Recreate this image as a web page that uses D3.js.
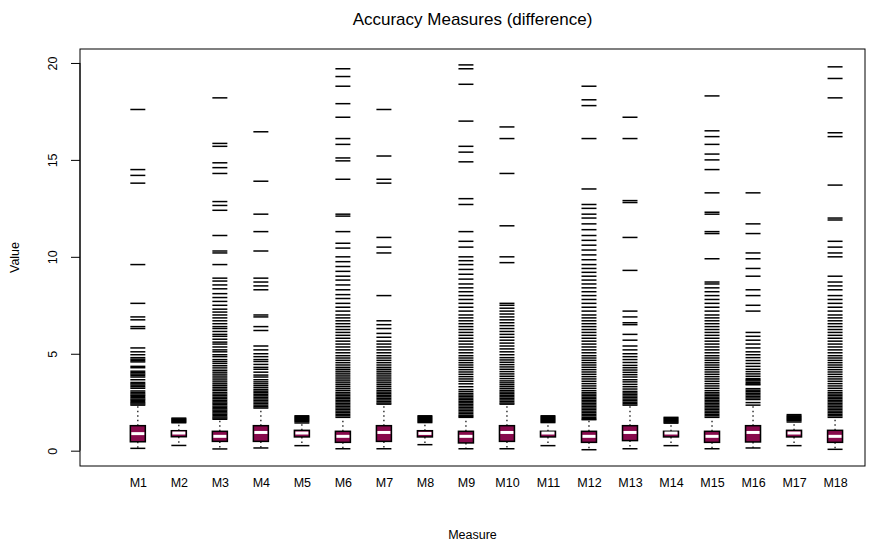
<!DOCTYPE html>
<html>
<head>
<meta charset="utf-8">
<script src="https://cdn.jsdelivr.net/npm/d3@7"></script>
<style>
  html, body { margin: 0; padding: 0; background: #fff; }
  svg { display: block; font-family: "Liberation Sans", Arial, Helvetica, sans-serif; }
</style>
</head>
<body>
<svg id="chart" width="886" height="546"></svg>
<script>
const categories = ["M1","M2","M3","M4","M5","M6","M7","M8","M9","M10","M11","M12","M13","M14","M15","M16","M17","M18"];
const lowWhisker  = [0.12,0.27,0.09,0.14,0.26,0.10,0.10,0.31,0.10,0.10,0.26,0.05,0.10,0.26,0.10,0.14,0.26,0.07];
const q1Values    = [0.46,0.72,0.48,0.48,0.71,0.43,0.48,0.71,0.40,0.48,0.71,0.43,0.52,0.71,0.43,0.45,0.71,0.43];
const medians     = [0.88,0.91,0.74,0.94,0.91,0.74,0.94,0.89,0.74,0.94,0.91,0.74,0.94,0.91,0.74,0.94,0.91,0.74];
const q3Values    = [1.29,1.03,1.00,1.29,1.05,1.00,1.29,1.03,1.00,1.29,1.00,1.00,1.29,1.00,1.00,1.29,1.05,1.05];
const highWhisker = [2.35,1.44,1.62,2.20,1.43,1.72,2.40,1.45,1.72,2.40,1.45,1.60,2.35,1.42,1.72,2.35,1.48,1.72];
const outliers = [
  [17.6,14.5,14.2,13.8,9.6,7.6,6.9,6.75,6.4,6.3,5.3,5.1,4.95,4.8,4.72,4.65,4.58,4.35,4.28,4.1,4.02,3.95,3.88,3.8,3.66,3.52,3.45,3.38,3.3,3.22,3.08,3.0,2.93,2.86,2.8,2.73,2.66,2.6,2.53,2.47,2.41],
  [1.68,1.64,1.6,1.56,1.52,1.48],
  [18.2,15.85,15.7,14.85,14.6,14.3,12.85,12.65,12.4,11.1,10.3,10.2,9.6,8.9,8.75,8.55,8.35,8.1,7.9,7.7,7.5,7.3,7.15,7.0,6.85,6.7,6.55,6.4,6.3,6.15,6.0,5.9,5.75,5.6,5.5,5.35,5.2,5.1,4.95,4.85,4.7,4.6,4.5,4.38,4.27,4.15,4.05,3.95,3.85,3.75,3.65,3.55,3.45,3.36,3.27,3.18,3.1,3.0,2.92,2.84,2.76,2.68,2.6,2.52,2.45,2.38,2.3,2.23,2.16,2.09,2.02,1.95,1.88,1.81,1.74,1.68],
  [16.45,13.9,12.2,11.3,10.3,8.9,8.7,8.5,8.3,7.0,6.9,6.4,6.2,5.4,5.2,5.0,4.85,4.7,4.6,4.45,4.3,4.2,4.05,3.9,3.8,3.66,3.55,3.45,3.35,3.25,3.15,3.07,2.99,2.91,2.83,2.75,2.67,2.59,2.51,2.43,2.35,2.27],
  [1.8,1.75,1.7,1.65,1.6,1.55,1.5],
  [19.7,19.3,18.8,17.9,17.2,16.1,15.8,15.1,14.95,14.0,12.2,12.1,11.3,10.7,10.45,10.0,9.75,9.5,9.25,9.0,8.8,8.55,8.3,8.05,7.85,7.6,7.4,7.2,7.0,6.85,6.7,6.55,6.4,6.25,6.1,5.95,5.8,5.65,5.5,5.35,5.2,5.05,4.9,4.78,4.66,4.54,4.42,4.3,4.2,4.1,4.0,3.9,3.8,3.7,3.6,3.5,3.4,3.3,3.2,3.1,3.0,2.92,2.84,2.76,2.68,2.6,2.52,2.44,2.36,2.28,2.2,2.12,2.04,1.96,1.88,1.8],
  [17.6,15.2,14.0,13.8,11.0,10.5,10.2,8.0,6.7,6.5,6.3,6.05,5.85,5.65,5.5,5.35,5.2,5.05,4.9,4.78,4.66,4.54,4.42,4.3,4.2,4.1,4.0,3.9,3.8,3.7,3.6,3.5,3.4,3.3,3.2,3.1,3.02,2.94,2.86,2.78,2.7,2.62,2.54,2.46],
  [1.8,1.75,1.7,1.65,1.6,1.55,1.5],
  [19.9,19.7,18.9,17.0,15.7,15.4,14.9,13.0,12.7,11.3,10.8,10.5,10.0,9.8,9.6,9.35,9.1,8.85,8.6,8.4,8.2,8.0,7.8,7.6,7.4,7.2,7.0,6.85,6.7,6.55,6.4,6.25,6.1,5.95,5.8,5.65,5.5,5.35,5.2,5.05,4.9,4.78,4.66,4.54,4.42,4.3,4.18,4.06,3.94,3.82,3.7,3.58,3.45,3.3,3.15,3.05,2.95,2.87,2.79,2.71,2.63,2.55,2.47,2.39,2.31,2.23,2.15,2.07,1.99,1.91,1.83,1.77],
  [16.7,16.1,14.3,11.6,10.0,9.7,7.6,7.5,7.35,7.2,7.05,6.9,6.75,6.6,6.45,6.3,6.15,6.0,5.85,5.7,5.55,5.4,5.25,5.1,4.95,4.8,4.68,4.56,4.44,4.32,4.2,4.08,3.96,3.84,3.72,3.6,3.5,3.4,3.3,3.2,3.1,3.02,2.94,2.86,2.78,2.7,2.62,2.54,2.46],
  [1.8,1.75,1.7,1.65,1.6,1.55,1.5],
  [18.8,18.1,17.8,16.1,13.5,12.7,12.5,12.2,12.0,11.7,11.4,11.1,10.85,10.6,10.35,10.1,9.85,9.6,9.4,9.2,9.0,8.8,8.6,8.4,8.2,8.0,7.8,7.6,7.4,7.2,7.0,6.85,6.7,6.55,6.4,6.25,6.1,5.95,5.8,5.65,5.5,5.35,5.2,5.05,4.9,4.78,4.66,4.54,4.42,4.3,4.18,4.06,3.94,3.82,3.7,3.58,3.46,3.34,3.22,3.1,3.0,2.92,2.84,2.76,2.68,2.6,2.52,2.44,2.36,2.28,2.2,2.12,2.04,1.96,1.88,1.8,1.72,1.65],
  [17.2,16.1,12.9,12.8,11.0,9.3,7.2,6.9,6.6,6.5,6.0,5.7,5.4,5.2,5.0,4.85,4.7,4.55,4.4,4.28,4.16,4.04,3.92,3.8,3.66,3.55,3.42,3.3,3.18,3.06,2.98,2.9,2.82,2.74,2.66,2.58,2.5,2.42],
  [1.72,1.67,1.62,1.57,1.52,1.47],
  [18.3,16.5,16.2,15.8,15.3,15.0,14.5,13.3,12.3,12.2,11.3,11.2,9.9,8.7,8.6,8.4,8.2,8.0,7.8,7.6,7.4,7.2,7.0,6.85,6.7,6.55,6.4,6.25,6.1,5.95,5.8,5.65,5.5,5.35,5.2,5.05,4.9,4.78,4.66,4.54,4.42,4.3,4.18,4.06,3.94,3.82,3.7,3.58,3.46,3.34,3.22,3.1,3.0,2.92,2.84,2.76,2.68,2.6,2.52,2.44,2.36,2.28,2.2,2.12,2.04,1.96,1.88,1.8],
  [13.3,11.7,11.2,10.2,9.9,9.4,9.0,8.3,8.0,7.5,7.2,6.1,5.9,5.7,5.5,5.3,5.1,4.95,4.8,4.65,4.5,4.35,4.2,4.08,3.96,3.84,3.72,3.66,3.6,3.52,3.45,3.4,3.2,3.12,3.04,2.96,2.88,2.8,2.72,2.64,2.48],
  [1.86,1.8,1.75,1.7,1.65,1.6,1.55],
  [19.8,19.2,18.2,16.4,16.2,13.7,12.0,11.9,10.8,10.5,10.2,10.0,9.0,8.7,8.5,8.3,8.0,7.8,7.6,7.4,7.2,7.0,6.85,6.7,6.55,6.4,6.25,6.1,5.95,5.8,5.65,5.5,5.35,5.2,5.05,4.9,4.78,4.66,4.54,4.42,4.3,4.18,4.06,3.94,3.82,3.7,3.58,3.46,3.34,3.22,3.1,3.0,2.92,2.84,2.76,2.68,2.6,2.52,2.44,2.36,2.28,2.2,2.12,2.04,1.96,1.88,1.8]
];
const yTicks = [0, 5, 10, 15, 20];
const titleText = "Accuracy Measures (difference)";
const xTitle = "Measure";
const yTitle = "Value";

const svg = d3.select("#chart");
const plotL = 80, plotR = 865, plotT = 49, plotB = 466;
const x = d3.scaleLinear().domain([-0.41, 18.73]).range([plotL, plotR]);
const y = d3.scaleLinear().domain([-0.79, 20.72]).range([plotB, plotT]);
const boxW = 15;
const fillColor = "#880a4c";

const data = categories.map((c, i) => ({
  name: c, pos: i + 1, lo: lowWhisker[i], q1: q1Values[i], med: medians[i],
  q3: q3Values[i], hi: highWhisker[i], out: outliers[i]
}));

const g = svg.append("g");
const grp = g.selectAll("g.box").data(data).enter().append("g").attr("class", "box");

// whiskers (dotted)
grp.append("line").attr("x1", d => x(d.pos)).attr("x2", d => x(d.pos))
  .attr("y1", d => y(d.q3)).attr("y2", d => y(d.hi))
  .attr("stroke", "#000").attr("stroke-width", 1.2).attr("stroke-dasharray", "1.5,3");
grp.append("line").attr("x1", d => x(d.pos)).attr("x2", d => x(d.pos))
  .attr("y1", d => y(d.q1)).attr("y2", d => y(d.lo))
  .attr("stroke", "#000").attr("stroke-width", 1.2).attr("stroke-dasharray", "1.5,3");
// staples
grp.append("line").attr("x1", d => x(d.pos) - boxW / 2).attr("x2", d => x(d.pos) + boxW / 2)
  .attr("y1", d => y(d.hi)).attr("y2", d => y(d.hi)).attr("stroke", "#000").attr("stroke-width", 1.5);
grp.append("line").attr("x1", d => x(d.pos) - boxW / 2).attr("x2", d => x(d.pos) + boxW / 2)
  .attr("y1", d => y(d.lo)).attr("y2", d => y(d.lo)).attr("stroke", "#000").attr("stroke-width", 1.5);
// box
grp.append("rect").attr("x", d => x(d.pos) - boxW / 2).attr("width", boxW)
  .attr("y", d => y(d.q3)).attr("height", d => y(d.q1) - y(d.q3))
  .attr("fill", fillColor).attr("stroke", "#000").attr("stroke-width", 1.5);
// median
grp.append("line").attr("x1", d => x(d.pos) - boxW / 2 + 1).attr("x2", d => x(d.pos) + boxW / 2 - 1)
  .attr("y1", d => y(d.med)).attr("y2", d => y(d.med)).attr("stroke", "#fff").attr("stroke-width", 3);
// outliers as dashes
grp.selectAll("line.out").data(d => d.out.map(v => ({ pos: d.pos, v }))).enter().append("line")
  .attr("class", "out")
  .attr("x1", d => x(d.pos) - boxW / 2).attr("x2", d => x(d.pos) + boxW / 2)
  .attr("y1", d => y(d.v)).attr("y2", d => y(d.v))
  .attr("stroke", "#000").attr("stroke-width", 1.5);

// frame
svg.append("rect").attr("x", plotL).attr("y", plotT).attr("width", plotR - plotL).attr("height", plotB - plotT)
  .attr("fill", "none").attr("stroke", "#000").attr("stroke-width", 1);

// y axis
const yAxis = d3.axisLeft(y).tickValues(yTicks).tickSize(9).tickPadding(4).tickFormat(d3.format("d"));
const ya = svg.append("g").attr("transform", `translate(${plotL},0)`).call(yAxis);
ya.select(".domain").attr("d", `M0,${y(0)}V${y(20)}`).attr("stroke", "#000");
ya.selectAll(".tick line").attr("stroke", "#000");
ya.selectAll(".tick text").attr("x", null).attr("dy", null)
  .attr("text-anchor", "middle")
  .attr("transform", "translate(-23,0) rotate(-90)")
  .attr("font-size", 12.5).attr("font-family", "Liberation Sans, Arial, sans-serif").attr("fill", "#000");

// x labels
const xAxis = d3.axisBottom(x).tickValues(data.map(d => d.pos)).tickFormat((d, i) => categories[i]).tickSize(0).tickPadding(0);
const xa = svg.append("g").attr("transform", `translate(0,${plotB})`).call(xAxis);
xa.select(".domain").remove();
xa.selectAll(".tick text").attr("y", 21).attr("dy", null)
  .attr("font-size", 12.5).attr("font-family", "Liberation Sans, Arial, sans-serif").attr("fill", "#000");

// titles
svg.append("text").attr("x", (plotL + plotR) / 2).attr("y", 25).attr("text-anchor", "middle")
  .attr("font-size", 17).attr("fill", "#000").text(titleText);
svg.append("text").attr("x", (plotL + plotR) / 2).attr("y", 539).attr("text-anchor", "middle")
  .attr("font-size", 12.5).attr("fill", "#000").text(xTitle);
svg.append("text").attr("transform", `translate(19,${(plotT + plotB) / 2}) rotate(-90)`).attr("text-anchor", "middle")
  .attr("font-size", 12.5).attr("fill", "#000").text(yTitle);
</script>
</body>
</html>
